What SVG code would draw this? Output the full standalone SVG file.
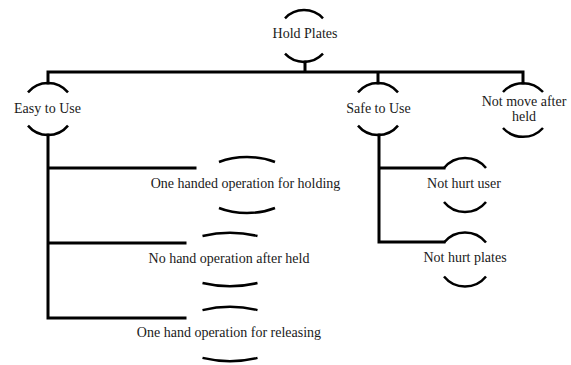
<svg xmlns="http://www.w3.org/2000/svg" width="571" height="365" viewBox="0 0 571 365">
<style>
.arc{fill:none;stroke:#000;stroke-width:2.5}
.ln{fill:none;stroke:#000;stroke-width:3;stroke-linecap:square;stroke-linejoin:miter}
.t{font-family:'Liberation Serif','Times New Roman',Tinos,'DejaVu Serif',serif;font-size:14px;fill:#1a1a1a;text-anchor:middle}
</style>
<rect width="571" height="365" fill="#fff"/>
<g id="connectors">
<path class="ln" d="M305 62V72M48 83V72H523V83M378 72V83"/>
<path class="ln" d="M48 135V318H185M48 168H195M48 243H185"/>
<path class="ln" d="M379 135V242H444M379 168H444"/>
</g>
<g id="hold-plates">
<path class="arc" d="M285 18.3A26 26 0 0 1 323 18.3M285 53.7A26 26 0 0 0 323 53.7"/>
<text class="t" x="305" y="38">Hold Plates</text>
</g>
<g id="easy-to-use">
<path class="arc" d="M28 92.4A26 26 0 0 1 68 92.4M28 125.6A26 26 0 0 0 68 125.6"/>
<text class="t" x="47.5" y="113">Easy to Use</text>
</g>
<g id="safe-to-use">
<path class="arc" d="M358 92.4A26 26 0 0 1 398 92.4M358 125.6A26 26 0 0 0 398 125.6"/>
<text class="t" x="378.5" y="113">Safe to Use</text>
</g>
<g id="not-move">
<path class="arc" d="M503 92A27 27 0 0 1 543 92M503 128A27 27 0 0 0 543 128"/>
<text class="t" x="524" y="106">Not move after</text>
<text class="t" x="524" y="121">held</text>
</g>
<g id="one-handed-holding">
<path class="arc" d="M219 162A49 28 0 0 1 275 162M219 208A49 28 0 0 0 275 208"/>
<text class="t" x="245.5" y="188">One handed operation for holding</text>
</g>
<g id="no-hand-after-held">
<path class="arc" d="M202.5 236A59 26.5 0 0 1 257.5 236M202.5 283A59 26.5 0 0 0 257.5 283"/>
<text class="t" x="229" y="263">No hand operation after held</text>
</g>
<g id="one-hand-releasing">
<path class="arc" d="M202.5 310.1A59 27 0 0 1 257.5 310.1M202.5 357.9A59 27 0 0 0 257.5 357.9"/>
<text class="t" x="229" y="337">One hand operation for releasing</text>
</g>
<g id="not-hurt-user">
<path class="arc" d="M444 168A27 27 0 0 1 486 168M444 202A27 27 0 0 0 486 202"/>
<text class="t" x="464" y="188">Not hurt user</text>
</g>
<g id="not-hurt-plates">
<path class="arc" d="M444 242.5A27 27 0 0 1 486 242.5M444 276.5A27 27 0 0 0 486 276.5"/>
<text class="t" x="465" y="262">Not hurt plates</text>
</g>
</svg>
